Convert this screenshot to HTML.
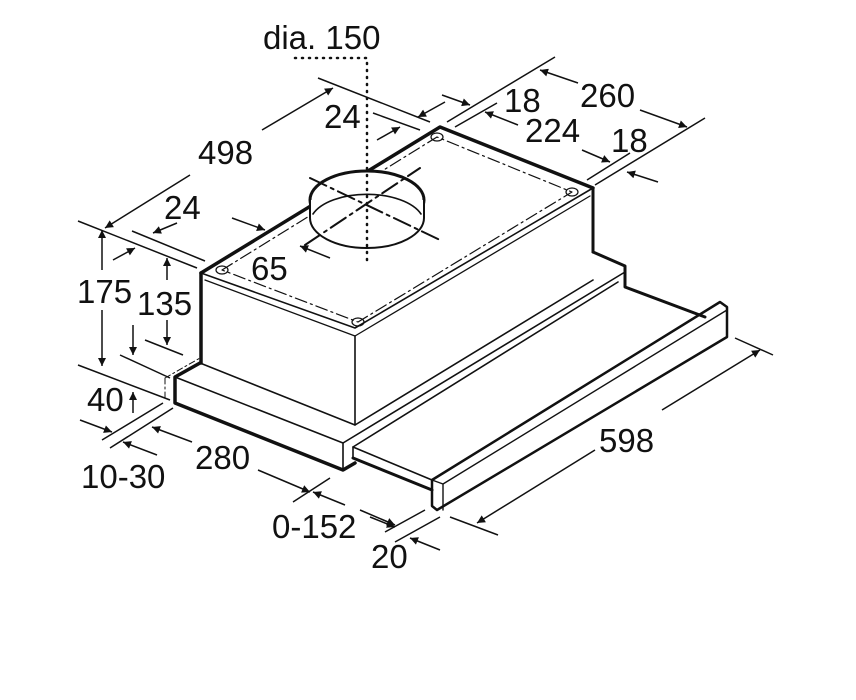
<!DOCTYPE html>
<html><head><meta charset="utf-8"><style>
html,body{margin:0;padding:0;background:#fff;}
svg{display:block}
text{font-family:"Liberation Sans",sans-serif;font-size:33px;fill:#111;}
</style></head><body>
<svg width="856" height="700" viewBox="0 0 856 700" xmlns="http://www.w3.org/2000/svg">
<defs>
<marker id="a" viewBox="0 0 10 10" refX="10" refY="5" markerWidth="11" markerHeight="8" orient="auto" markerUnits="userSpaceOnUse">
<path d="M0,0 L10,5 L0,10 z" fill="#111"/></marker>
</defs>
<rect width="856" height="700" fill="#fff"/>
<g stroke="#111" fill="none" stroke-linecap="round" stroke-linejoin="round">
<path d="M201,273 L440,127 L593,188" stroke-width="3.5"/>
<path d="M201,273 L355,328 L593,188" stroke-width="1.6"/>
<path d="M205,280 L355,336 L590,196" stroke-width="1.3"/>
<path d="M201,273 L201,363" stroke-width="3.5"/>
<path d="M593,188 L593,252" stroke-width="3"/>
<path d="M355,336 L355,425" stroke-width="1.6"/>
<path d="M200,363 L355,425 L593,280" stroke-width="1.6"/>
<path d="M222,270 L437,137 L572,192 L358,322 Z" stroke-width="1.2" stroke-dasharray="12,4,2,4"/>
<g stroke-width="1.2">
<ellipse cx="437" cy="137" rx="6" ry="4"/><ellipse cx="572" cy="192" rx="6" ry="4"/>
<ellipse cx="222" cy="270" rx="6" ry="4"/><ellipse cx="358" cy="322" rx="6" ry="4"/>
</g>
<rect x="311" y="172" width="113" height="60" fill="#fff" stroke="none"/>
<ellipse cx="367" cy="200" rx="57" ry="29" fill="#fff" stroke-width="3"/>
<path d="M310,200 L310,218 A57,30 0 0 0 424,218 L424,200" stroke-width="2" fill="#fff"/>
<path d="M313,214 A57,29 0 0 1 421,214" stroke-width="1.6"/>
<path d="M310,178 L440,240" stroke-width="2" stroke-dasharray="18,5,3,5"/>
<path d="M305,245 L420,168" stroke-width="2" stroke-dasharray="18,5,3,5"/>
<path d="M295,58 L367,58 L367,265" stroke-width="2.5" stroke-dasharray="1,6"/>
<!-- base -->
<path d="M200,363 L175,377 L175,403 L343,470 L355,463" stroke-width="3.5"/>
<path d="M175,377 L343,443 L343,470" stroke-width="1.6"/>
<path d="M343,443 L625,272" stroke-width="1.6"/>
<path d="M593,252 L625,266 L625,287 L705,317" stroke-width="3"/>
<!-- drawer -->
<path d="M353,447 L618,282" stroke-width="1.6"/>
<path d="M353,447 L353,458 M353,447 L432,480" stroke-width="1.6"/>
<path d="M353,458 L432,490" stroke-width="3"/>
<path d="M432,480 L720,302 L727,307 L727,337 L437,510 L432,506 Z" stroke-width="2.5"/>
<path d="M432,480 L443,484 L727,310 M443,484 L443,510" stroke-width="1.4"/>
<path d="M165,378 L200,358 M165,378 L165,400" stroke-width="1" stroke-dasharray="6,3,2,3"/>
</g>
<g stroke="#111" stroke-width="1.5" fill="none">
<path d="M318,78 L430,122"/>
<path d="M373,113 L420,130"/>
<path d="M447,122 L555,57"/>
<path d="M455,127 L497,103"/>
<path d="M587,180 L630,153"/>
<path d="M595,185 L705,118"/>
<path d="M78,221 L197,268"/>
<path d="M132,231 L205,261"/>
<path d="M78,365 L170,400"/>
<path d="M145,340 L183,355"/>
<path d="M120,355 L170,378"/>
<path d="M102,440 L163,403"/>
<path d="M110,448 L173,408"/>
<path d="M293,502 L330,478"/>
<path d="M385,532 L425,510"/>
<path d="M395,542 L440,517"/>
<path d="M450,517 L498,535"/>
<path d="M735,338 L773,355"/>
<path d="M190,175 L105,228" marker-end="url(#a)"/>
<path d="M262,130 L333,88" marker-end="url(#a)"/>
<path d="M377,140 L400,127" marker-end="url(#a)"/>
<path d="M445,102 L418,117" marker-end="url(#a)"/>
<path d="M442,95 L470,105" marker-end="url(#a)"/>
<path d="M518,125 L485,112" marker-end="url(#a)"/>
<path d="M582,150 L610,162" marker-end="url(#a)"/>
<path d="M578,83 L540,70" marker-end="url(#a)"/>
<path d="M640,110 L687,127" marker-end="url(#a)"/>
<path d="M658,182 L627,172" marker-end="url(#a)"/>
<path d="M232,218 L265,230" marker-end="url(#a)"/>
<path d="M330,258 L300,246" marker-end="url(#a)"/>
<path d="M177,223 L153,233" marker-end="url(#a)"/>
<path d="M113,260 L135,248" marker-end="url(#a)"/>
<path d="M102,270 L102,230" marker-end="url(#a)"/>
<path d="M102,310 L102,366" marker-end="url(#a)"/>
<path d="M167,280 L167,258" marker-end="url(#a)"/>
<path d="M167,320 L167,345" marker-end="url(#a)"/>
<path d="M133,325 L133,355" marker-end="url(#a)"/>
<path d="M133,413 L133,392" marker-end="url(#a)"/>
<path d="M80,420 L112,432" marker-end="url(#a)"/>
<path d="M157,455 L123,442" marker-end="url(#a)"/>
<path d="M192,442 L152,427" marker-end="url(#a)"/>
<path d="M258,470 L310,492" marker-end="url(#a)"/>
<path d="M345,505 L313,492" marker-end="url(#a)"/>
<path d="M360,510 L395,525" marker-end="url(#a)"/>
<path d="M370,517 L395,527" marker-end="url(#a)"/>
<path d="M440,550 L410,538" marker-end="url(#a)"/>
<path d="M595,450 L477,523" marker-end="url(#a)"/>
<path d="M662,410 L760,350" marker-end="url(#a)"/>
</g>
<g>
<text x="263" y="49">dia. 150</text>
<text x="324" y="128">24</text>
<text x="504" y="112">18</text>
<text x="580" y="107">260</text>
<text x="525" y="142">224</text>
<text x="611" y="152">18</text>
<text x="198" y="164">498</text>
<text x="164" y="219">24</text>
<text x="251" y="280">65</text>
<text x="77" y="303">175</text>
<text x="137" y="315">135</text>
<text x="87" y="411">40</text>
<text x="195" y="469">280</text>
<text x="81" y="488">10-30</text>
<text x="599" y="452">598</text>
<text x="272" y="538">0-152</text>
<text x="371" y="568">20</text>
</g>
</svg>
</body></html>
